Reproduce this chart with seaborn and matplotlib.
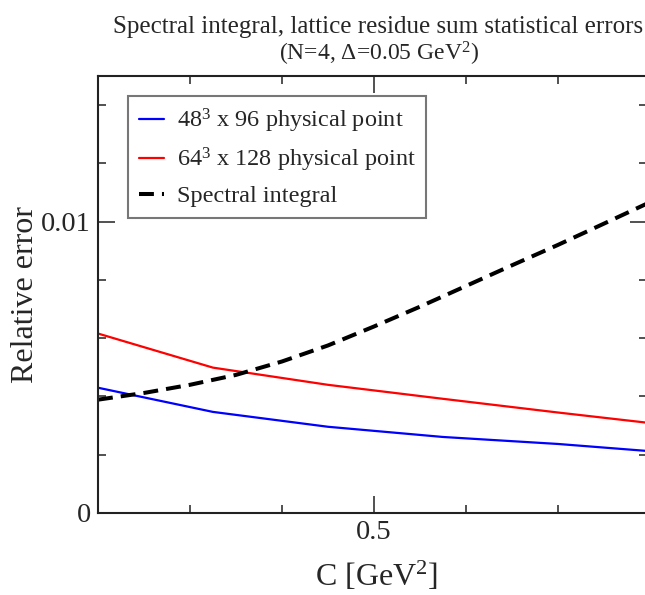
import matplotlib
matplotlib.use("Agg")
import matplotlib.pyplot as plt
from matplotlib.ticker import MultipleLocator, FixedLocator
import seaborn as sns
import pandas as pd

# ---- data ----
c_lat = [0.2, 0.325, 0.45, 0.575, 0.7, 0.797]
err_48 = [0.0043, 0.00347, 0.00296, 0.00261, 0.00237, 0.00213]
err_64 = [0.00616, 0.00499, 0.0044, 0.00392, 0.00345, 0.0031]

c_spec = [0.2, 0.25, 0.3, 0.35, 0.4, 0.45, 0.5, 0.55, 0.6, 0.65, 0.7, 0.75, 0.797]
err_spec = [0.00389, 0.00412, 0.0044, 0.00474, 0.0052, 0.00575, 0.0064, 0.00708,
            0.00779, 0.0085, 0.0092, 0.00993, 0.01062]

label_48 = "48$^{3}$ x 96 physical point"
label_64 = "64$^{3}$ x 128 physical point"
label_spec = "Spectral integral"

title_line1 = "Spectral integral, lattice residue sum statistical errors"
title_line2 = "(N=4, \u0394=0.05 GeV$^{2}$)"
x_label = "C [GeV$^{2}$]"
y_label = "Relative error"

sns.set_style("ticks")
plt.rcParams["font.family"] = ["Liberation Serif", "DejaVu Serif"]
plt.rcParams["mathtext.fontset"] = "custom"
plt.rcParams["mathtext.rm"] = "Liberation Serif"
plt.rcParams["mathtext.it"] = "Liberation Serif:italic"
plt.rcParams["mathtext.bf"] = "Liberation Serif:bold"

df_48 = pd.DataFrame({"C": c_lat, "err": err_48})
df_64 = pd.DataFrame({"C": c_lat, "err": err_64})
df_sp = pd.DataFrame({"C": c_spec, "err": err_spec})

fig = plt.figure(figsize=(6.45, 5.95), dpi=100)
ax = fig.add_axes([98 / 645, (595 - 513) / 595, (647 - 98) / 645, (513 - 76) / 595])

sns.lineplot(data=df_48, x="C", y="err", ax=ax, color="#0000ff", lw=1.6, label=label_48)
sns.lineplot(data=df_64, x="C", y="err", ax=ax, color="#ff0000", lw=1.6, label=label_64)
sns.lineplot(data=df_sp, x="C", y="err", ax=ax, color="black", lw=2.9, label=label_spec,
             dashes=False)
ax.lines[-1].set_dashes([3.7, 2.0])

ax.set_xlim(0.2, 0.797)
ax.set_ylim(0, 0.015)

ax.xaxis.set_major_locator(FixedLocator([0.5]))
ax.xaxis.set_minor_locator(MultipleLocator(0.1))
ax.yaxis.set_major_locator(FixedLocator([0, 0.01]))
ax.yaxis.set_minor_locator(MultipleLocator(0.002))
ax.set_xticklabels(["0.5"])
ax.set_yticklabels(["0", "0.01"])

ax.tick_params(which="both", direction="in", top=True, right=True, color="#333333",
               width=1.2)
ax.tick_params(which="major", length=12, labelsize=20.5, pad=5)
ax.tick_params(which="minor", length=6)
for s in ax.spines.values():
    s.set_linewidth(1.5)
    s.set_color("#222222")

ax.set_xlabel(x_label, fontsize=23, va="center")
ax.set_ylabel(y_label, fontsize=23, va="center")
ax.xaxis.set_label_coords((376 - 98) / 549, -(576 - 513) / 437)
ax.yaxis.set_label_coords(-(98 - 26) / 549, 0.5)

fig.text(378 / 645, 1 - 27 / 595, title_line1, ha="center", va="center", fontsize=18)
fig.text(379 / 645, 1 - 54 / 595, title_line2, ha="center", va="center", fontsize=17)

leg = ax.legend(loc="upper left", bbox_to_anchor=(128 / 645, 1 - 96 / 595),
                bbox_transform=fig.transFigure, fontsize=17.5, frameon=True,
                fancybox=False, handlelength=1.05, handletextpad=0.5,
                borderpad=0.45, labelspacing=0.45, borderaxespad=0)
leg.get_frame().set_edgecolor("#555555")
leg.get_frame().set_linewidth(1.5)

fig.savefig("out.png", dpi=100)
